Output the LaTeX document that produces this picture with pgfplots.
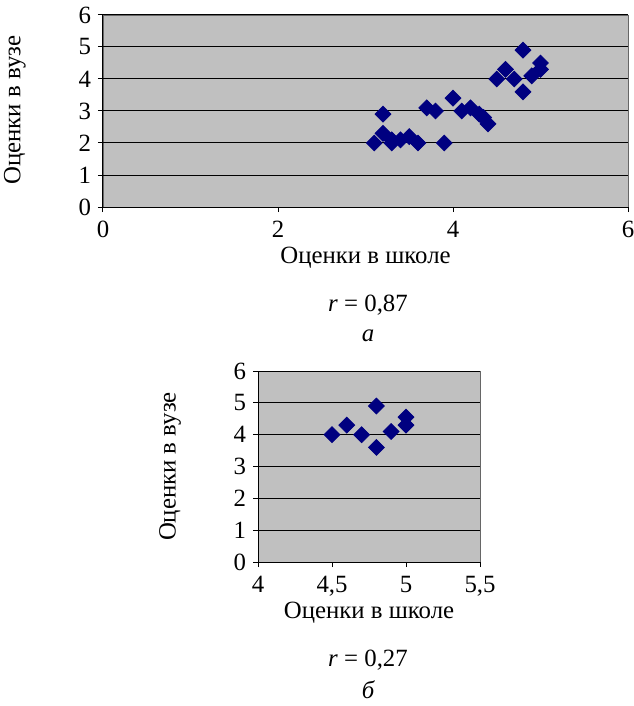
\documentclass[border=0pt]{standalone}
\usepackage{pgfplots}
\pgfplotsset{compat=1.18}
\usepackage{fontspec}
\setmainfont{Liberation Serif}
\definecolor{plotgray}{HTML}{C0C0C0}
\definecolor{navy}{HTML}{000080}
\newcommand{\fs}{\fontsize{12.4}{14.5}\selectfont}
\pgfplotsset{
  excel/.style={
    scale only axis,
    axis background/.style={fill=plotgray, draw=gray!80!black},
    axis x line*=bottom, axis y line*=left,
    axis line style={black, line width=0.5pt},
    tick align=outside, major tick length=2.5pt,
    tick style={black, line width=0.5pt},
    ymajorgrids, grid style={black, line width=0.5pt},
    ymin=0, ymax=6, ytick={0,1,2,3,4,5,6},
    /pgf/number format/assume math mode=true,
    /pgf/number format/use comma,
    tick label style={font=\fs},
    label style={font=\fs},
    xticklabel style={yshift=-1pt},
  },
  dia/.style={only marks, mark=square*, mark size=2.8pt, color=navy,
      mark options={rotate=45, fill=navy, draw=navy}},
}
\begin{document}
\begin{tikzpicture}
\useasboundingbox (0,0) rectangle (316.5pt,-353pt);
\begin{axis}[excel,
  at={(51.5pt,-103.5pt)}, anchor=south west,
  width=262.5pt, height=96pt,
  xmin=0, xmax=6, xtick={0,2,4,6},
  xlabel={Оценки в школе}, ylabel={Оценки в вузе},
  xlabel style={at={(axis description cs:0.5,-0.266)}, anchor=center},
  ylabel style={at={(axis description cs:-0.168,0.505)}, anchor=center, rotate=0},
]
\addplot[dia] coordinates {
(3.1,2.0) (3.2,2.9) (3.2,2.3) (3.3,2.1) (3.3,2.0) (3.4,2.1) (3.5,2.2) (3.6,2.0)
(3.7,3.1) (3.8,3.0) (3.9,2.0) (4.0,3.4) (4.1,3.0) (4.2,3.1) (4.3,2.9) (4.35,2.8)
(4.4,2.6) (4.5,4.0) (4.6,4.3) (4.7,4.0) (4.8,4.9) (4.8,3.6) (4.9,4.1) (5.0,4.5) (5.0,4.3)
};
\end{axis}
\begin{axis}[excel,
  at={(129pt,-281pt)}, anchor=south west,
  width=111pt, height=95.5pt,
  xmin=4, xmax=5.5, xtick={4,4.5,5,5.5},
  xlabel={Оценки в школе}, ylabel={Оценки в вузе},
  xlabel style={at={(axis description cs:0.5,-0.267)}, anchor=center},
  ylabel style={at={(axis description cs:-0.396,0.5)}, anchor=center, rotate=0},
]
\addplot[dia] coordinates {
(4.5,4.0) (4.6,4.3) (4.7,4.0) (4.8,4.9) (4.8,3.6) (4.9,4.1) (5.0,4.55) (5.0,4.3)
};
\end{axis}
\node[font=\fs] at (184pt,-152.5pt) {\textit{r} = 0,87};
\node[font=\fs\itshape] at (184pt,-168pt) {а};
\node[font=\fs] at (184pt,-330pt) {\textit{r} = 0,27};
\node[font=\fs\itshape] at (184pt,-345pt) {б};
\end{tikzpicture}
\end{document}
